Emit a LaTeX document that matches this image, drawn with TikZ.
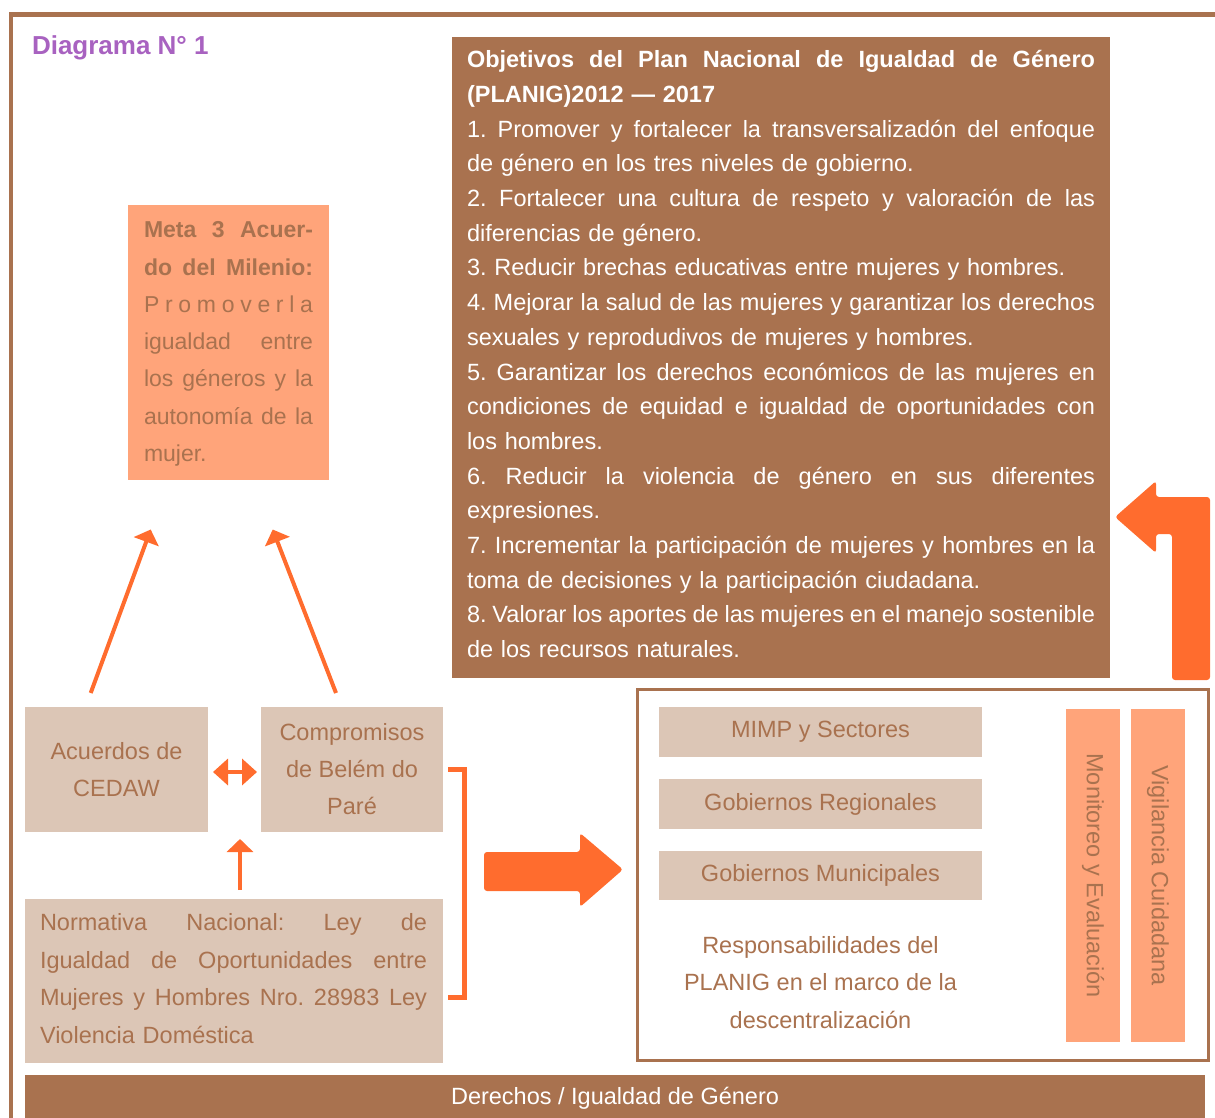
\documentclass[tikz,border=0pt]{standalone}
\usepackage{fontspec}
\setmainfont{Liberation Sans}
\usetikzlibrary{arrows.meta}
\definecolor{brn}{HTML}{A9724F}
\definecolor{beige}{HTML}{DCC6B6}
\definecolor{salmon}{HTML}{FFA47A}
\definecolor{org}{HTML}{FF6C2E}
\definecolor{purp}{HTML}{A862C0}
\frenchspacing
\newcommand\JL[2]{\makebox[#1][s]{\spaceskip=0.278em plus 20em minus 0.14em\xspaceskip=\spaceskip #2}}
\newcommand\TS{\rule{0pt}{20pt}}
\begin{document}
\begin{tikzpicture}[x=1pt,y=-1pt,
  every node/.style={inner sep=0pt, outer sep=0pt},
  beigebox/.style={fill=beige, text=brn, align=center, font=\fontsize{23.5}{37}\selectfont},
  salmonbox/.style={fill=salmon, text=brn},
  arr/.style={draw=org, line width=4pt, -{Triangle[length=13pt,width=26pt]}},
  dblarr/.style={draw=org, line width=4pt, {Triangle[length=15pt,width=26pt]}-{Triangle[length=15pt,width=26pt]}},
  blockarrow/.style={fill=org, rounded corners=3pt},
  para/.style={anchor=north west, align=left}
]
\useasboundingbox (0,0) rectangle (1215,1118);

% outer frame
\draw[brn, line width=4.5pt] (11,1118) -- (11,14.3) -- (1215,14.3);

% title
\node[anchor=base west, text=purp, font=\bfseries\fontsize{26}{30}\selectfont] (title) at (32,55) {Diagrama N° 1};

% objectives box
\node[fill=brn, anchor=north west, minimum width=658pt, minimum height=641pt] (objbox) at (452,37) {};
\node[para, text width=628pt, text=white, font=\fontsize{23.5}{34.7}\selectfont] (objtext) at (467,47.8) {%
\TS\JL{628pt}{\textbf{Objetivos del Plan Nacional de Igualdad de Género}}\\
\textbf{(PLANIG)2012 — 2017}\\
\JL{628pt}{1. Promover y fortalecer la transversalizadón del enfoque}\\
de género en los tres niveles de gobierno.\\
\JL{628pt}{2. Fortalecer una cultura de respeto y valoración de las}\\
diferencias de género.\\
3. Reducir brechas educativas entre mujeres y hombres.\\
\JL{628pt}{4. Mejorar la salud de las mujeres y garantizar los derechos}\\
sexuales y reprodudivos de mujeres y hombres.\\
\JL{628pt}{5. Garantizar los derechos económicos de las mujeres en}\\
\JL{628pt}{condiciones de equidad e igualdad de oportunidades con}\\
los hombres.\\
\JL{628pt}{6. Reducir la violencia de género en sus diferentes}\\
expresiones.\\
\JL{628pt}{7. Incrementar la participación de mujeres y hombres en la}\\
toma de decisiones y la participación ciudadana.\\
\JL{628pt}{8. Valorar los aportes de las mujeres en el manejo sostenible}\\
de los recursos naturales.};

% Meta box
\node[salmonbox, anchor=north west, minimum width=201pt, minimum height=275pt] (meta) at (128,205) {};
\node[para, text width=169pt, text=brn, font=\fontsize{23}{37.3}\selectfont] (metatext) at (144,217.7) {%
\TS\JL{169pt}{\textbf{Meta 3 Acuer-}}\\
\JL{169pt}{\textbf{do del Milenio:}}\\
\JL{169pt}{P r o m o v e r l a}\\
\JL{169pt}{igualdad entre}\\
\JL{169pt}{los géneros y la}\\
\JL{169pt}{autonomía de la}\\
mujer.};

% lower-left boxes
\node[beigebox, minimum width=183pt, minimum height=125pt] (cedaw) at (116.5,769.5) {Acuerdos de\\CEDAW};
\node[beigebox, minimum width=182pt, minimum height=125pt] (comp) at (352,769.5) {Compromisos\\de Belém do\\Paré};
\node[fill=beige, anchor=north west, minimum width=418pt, minimum height=164pt] (norm) at (25,899) {};
\node[para, text width=387pt, text=brn, font=\fontsize{23.5}{37.5}\selectfont] (normtext) at (40,910.7) {%
\TS\JL{387pt}{Normativa Nacional: Ley de}\\
\JL{387pt}{Igualdad de Oportunidades entre}\\
\JL{387pt}{Mujeres y Hombres Nro. 28983 Ley}\\
Violencia Doméstica};

% connectors
\coordinate (a1s) at (90.7,693);
\coordinate (a1e) at (150.7,529.5);
\coordinate (a2s) at (336,693);
\coordinate (a2e) at (272.7,529.5);
\coordinate (ups) at (240,890);
\coordinate (upe) at (240,839);
\draw[arr] (a1s) -- (a1e);
\draw[arr] (a2s) -- (a2e);
\draw[arr, line width=3.5pt] (ups) -- (upe);
\draw[dblarr, shorten <=5pt, shorten >=4pt] ([yshift=-2.5pt]cedaw.east) -- ([yshift=-2.5pt]comp.west);

% bracket
\draw[org, line width=5pt] (448,769) -- (464.5,769) -- (464.5,997) -- (448,997);

% big right arrow
\fill[blockarrow] (484,852) -- (580,852) -- (580,833) -- (623,869.5) -- (580,907) -- (580,891) -- (484,891) -- cycle;

% right box
\node[draw=brn, line width=3pt, anchor=north west, minimum width=571pt, minimum height=371pt] (rbox) at (637,689) {};
\node[beigebox, minimum width=323pt, minimum height=50pt] (mimp) at (820.5,732) {MIMP y Sectores};
\node[beigebox, minimum width=323pt, minimum height=50pt] (greg) at (820.5,804) {Gobiernos Regionales};
\node[beigebox, minimum width=323pt, minimum height=49pt] (gmun) at (820.5,875.5) {Gobiernos Municipales};
\node[text=brn, align=center, font=\fontsize{23.5}{37.5}\selectfont] (resp) at (820.5,982.5) {Responsabilidades del\\PLANIG en el marco de la\\descentralización};
\node[salmonbox, minimum width=54pt, minimum height=333pt] (monbox) at (1093,875.5) {};
\node[salmonbox, minimum width=54pt, minimum height=333pt] (vigbox) at (1158,875.5) {};
\node[text=brn, rotate=-90, font=\fontsize{23.5}{28}\selectfont] (mon) at (monbox.center) {Monitoreo y Evaluación};
\node[text=brn, rotate=-90, font=\fontsize{23.5}{28}\selectfont] (vig) at (vigbox.center) {Vigilancia Cuidadana};

% bent arrow up-left
\fill[blockarrow] (1172,680) -- (1210,680) -- (1210,497) -- (1156,497) -- (1156,481) -- (1115,517) -- (1156,553) -- (1156,534) -- (1172,534) -- cycle;

% bottom bar
\node[fill=brn, anchor=north west, minimum width=1180pt, minimum height=46pt, text=white, font=\fontsize{23.5}{28}\selectfont] (bar) at (25,1075) {Derechos / Igualdad de Género};
\end{tikzpicture}
\end{document}
